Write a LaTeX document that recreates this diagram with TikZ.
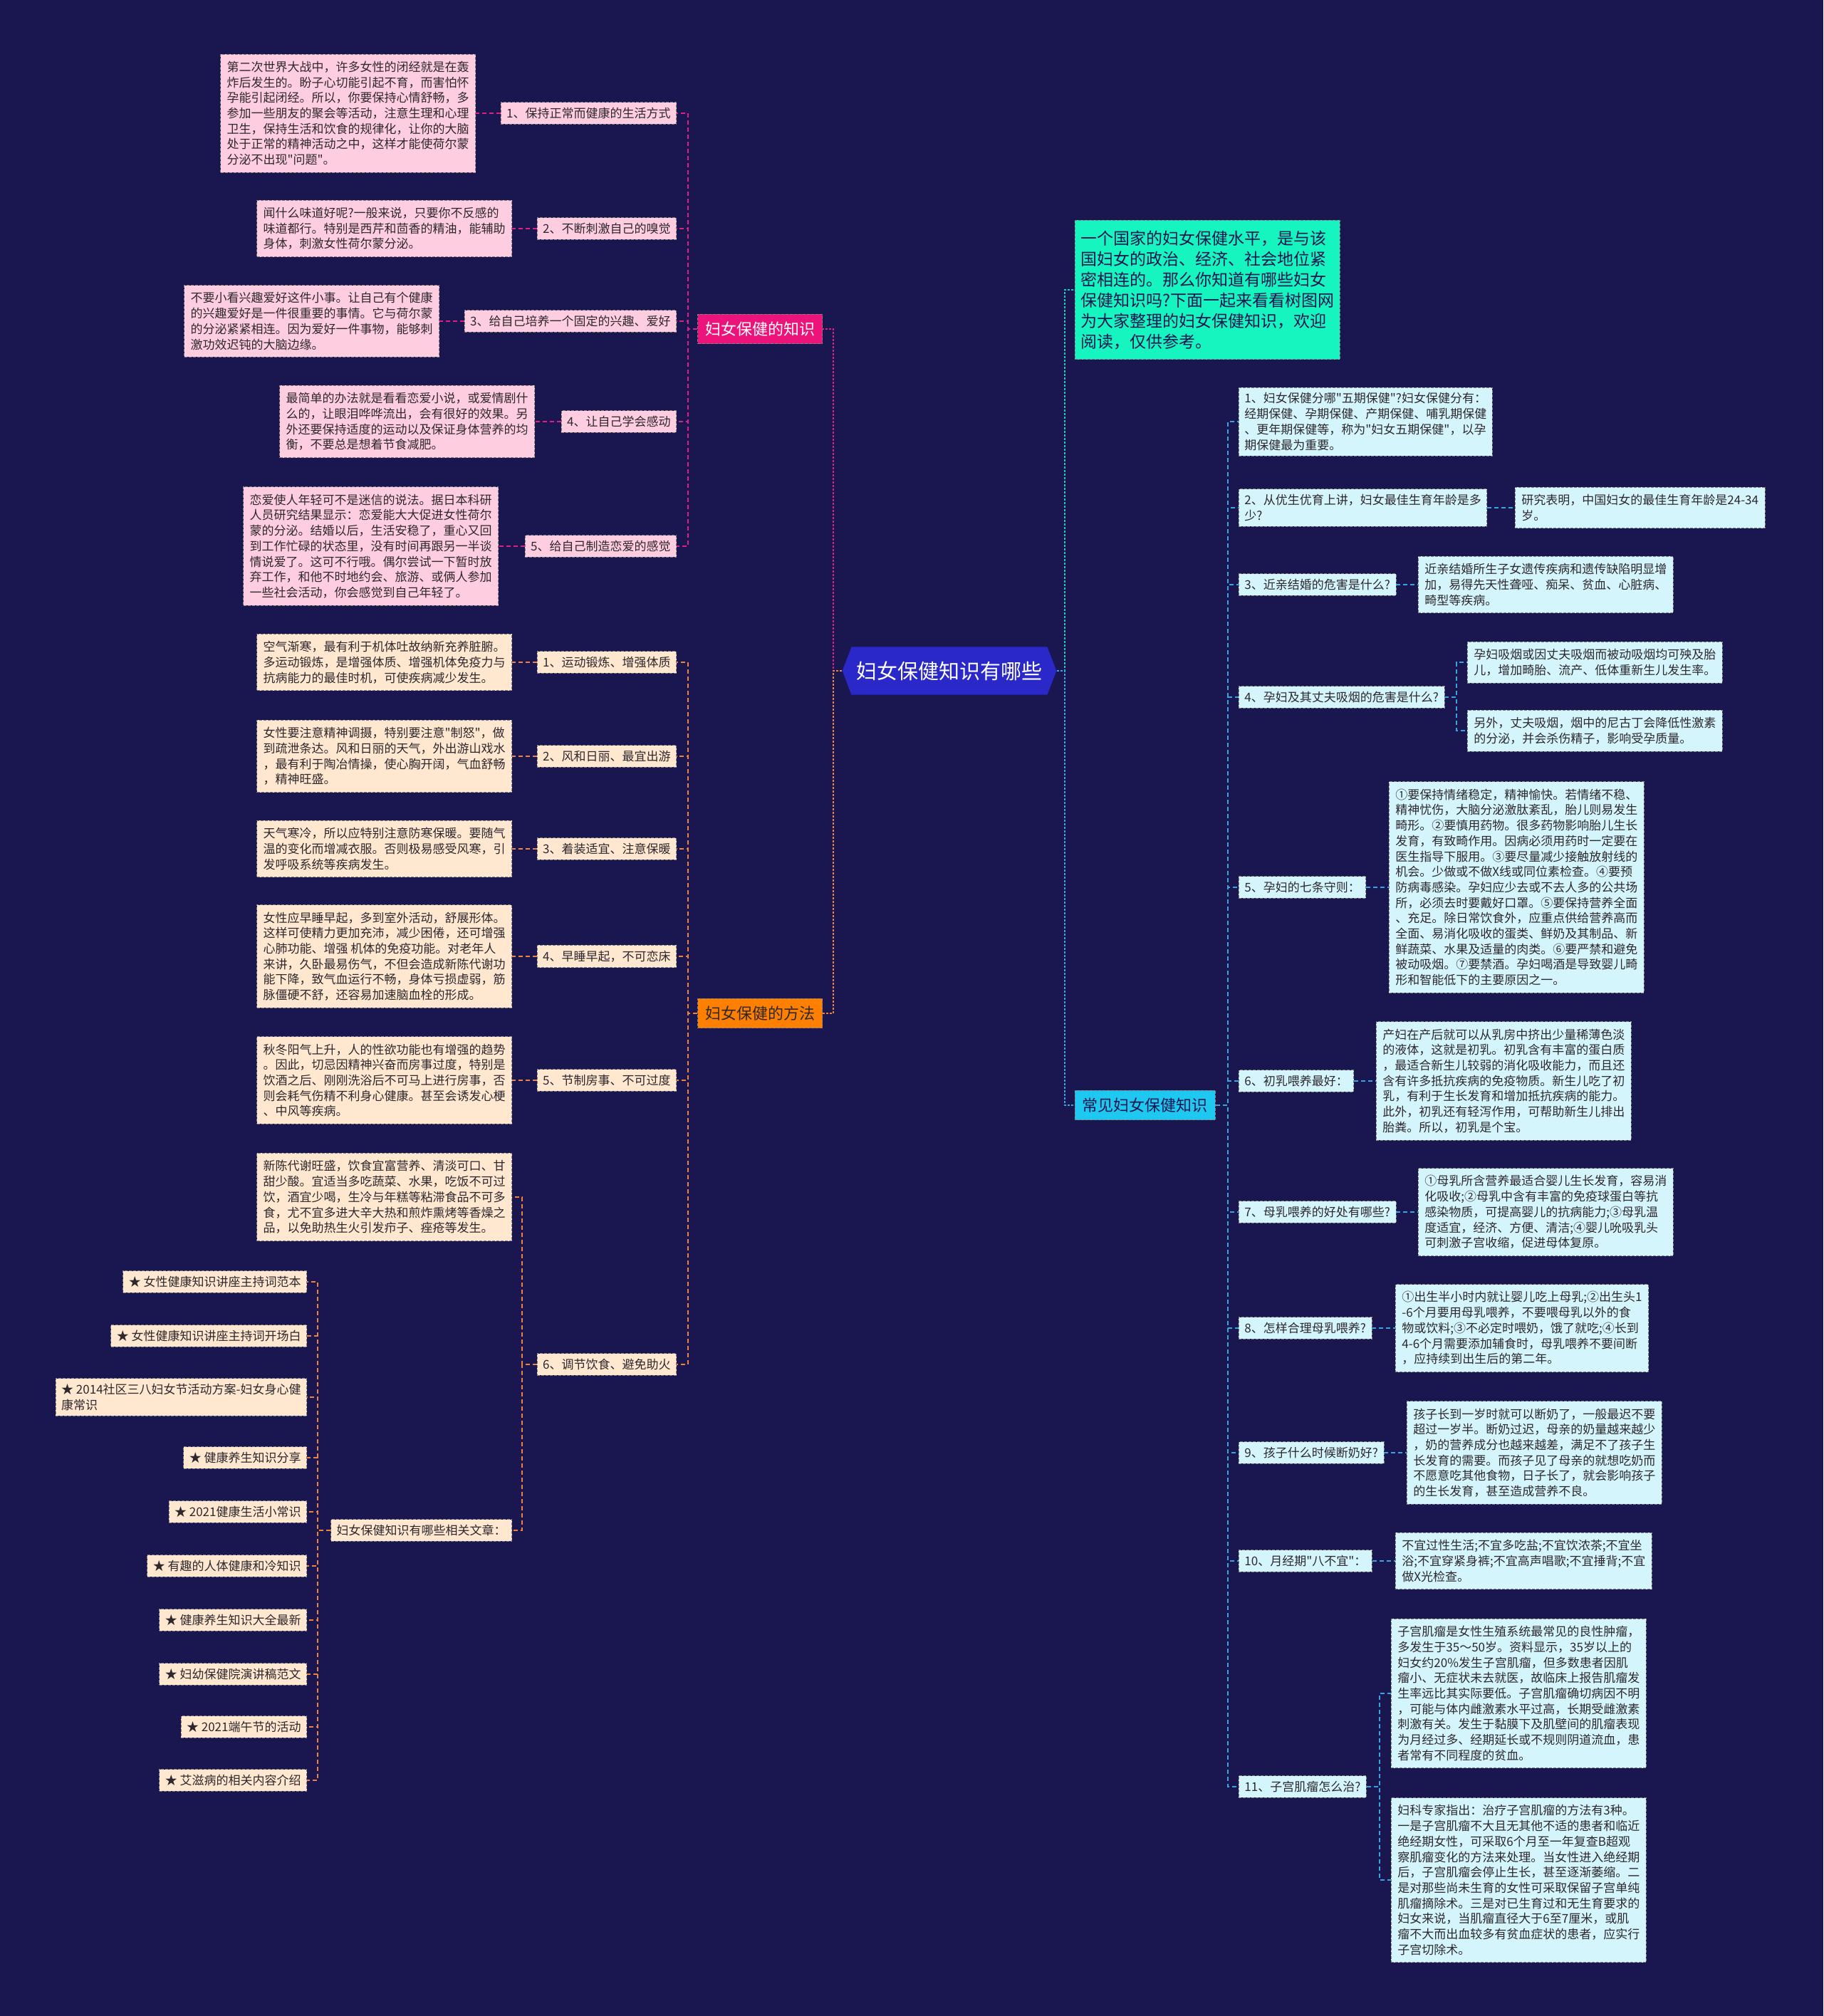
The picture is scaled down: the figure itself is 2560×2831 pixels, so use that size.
\documentclass[tikz,border=0pt]{standalone}
\usepackage{fontspec}
\newfontfamily\cjk{Noto Sans CJK SC}
\usepackage{xcolor}
\usetikzlibrary{shapes.symbols}

\definecolor{bgnavy}{RGB}{25,22,80}
\definecolor{hexblue}{RGB}{42,40,200}
\definecolor{rosered}{RGB}{236,20,122}
\definecolor{rosepale}{RGB}{255,205,224}
\definecolor{orangemain}{RGB}{255,128,0}
\definecolor{orangepale}{RGB}{255,231,208}
\definecolor{mintgreen}{RGB}{22,245,192}
\definecolor{skycyan}{RGB}{30,200,240}
\definecolor{skypale}{RGB}{212,245,252}
\definecolor{linerose}{RGB}{225,30,130}
\definecolor{lineorange}{RGB}{240,130,60}
\definecolor{lineteal}{RGB}{30,205,185}
\definecolor{linesky}{RGB}{55,165,225}
\definecolor{inkdark}{RGB}{45,40,45}

\tikzset{
  boxline/.style={draw=black!50, dash pattern=on 2pt off 1pt, line width=0.4pt},
  smallfont/.style={font=\cjk\fontsize{8.5}{10.85}\selectfont, align=left, text=inkdark},
  textbox/.style={boxline, smallfont, inner xsep=4.5pt, inner ysep=5pt},
  tagbox/.style={boxline, smallfont, inner xsep=4pt, inner ysep=3.75pt},
  secbox/.style={boxline, font=\cjk\fontsize{11}{13}\selectfont, inner xsep=5.25pt, inner ysep=5.25pt},
  conn/.style={line width=0.75pt, dash pattern=on 3pt off 2pt},
  trunk/.style={line width=1.3pt, dash pattern=on 1.5pt off 1pt}
}

\begin{document}
\begin{tikzpicture}[x=0.5pt, y=-0.5pt]
  \fill[bgnavy] (0,0) rectangle (2560,2831);
  \useasboundingbox (0,0) rectangle (2560,2831);

  % 总线位置
  \coordinate (hubL) at (1170,0);
  \coordinate (hubR) at (1495,0);
  \coordinate (kbus) at (966,0);
  \coordinate (mbus) at (966,0);
  \coordinate (m6bus) at (733,0);
  \coordinate (abus) at (446,0);
  \coordinate (cbus) at (1724,0);
  \coordinate (q4bus) at (2045,0);
  \coordinate (q11bus) at (1937,0);

  % 中心主题
  \node[signal, signal to=west and east, signal pointer angle=138, fill=hexblue, text=white,
        font=\cjk\fontsize{14.5}{16}\selectfont, inner xsep=3.5pt, inner ysep=10pt] (hub) at (1333,942) {妇女保健知识有哪些};

  % 一级分支
  \node[secbox, fill=rosered, text=white, anchor=east] (ksec) at (1155,462) {妇女保健的知识};
  \node[secbox, fill=orangemain, text=inkdark, anchor=east] (msec) at (1155,1423) {妇女保健的方法};
  \node[boxline, fill=mintgreen, text=bgnavy, anchor=west, align=left,
        font=\cjk\fontsize{11.5}{14.5}\selectfont, inner xsep=4pt, inner ysep=7pt] (intro) at (1509,407)
        {一个国家的妇女保健水平，是与该\\国妇女的政治、经济、社会地位紧\\密相连的。那么你知道有哪些妇女\\保健知识吗?下面一起来看看树图网\\为大家整理的妇女保健知识，欢迎\\阅读，仅供参考。};
  \node[secbox, fill=skycyan, text=bgnavy, anchor=west] (csec) at (1509,1552) {常见妇女保健知识};

  \draw[trunk, linerose] (hub.west) -- (hub.west -| hubL) |- (ksec.east);
  \draw[trunk, lineorange] (hub.west) -- (hub.west -| hubL) |- (msec.east);
  \draw[trunk, lineteal] (hub.east) -- (hub.east -| hubR) |- (intro.west);
  \draw[trunk, linesky] (hub.east) -- (hub.east -| hubR) |- (csec.west);

  % 妇女保健的知识
  \node[tagbox, fill=rosepale, anchor=east] (k1) at (950,159) {1、保持正常而健康的生活方式};
  \node[tagbox, fill=rosepale, anchor=east] (k2) at (950,321) {2、不断刺激自己的嗅觉};
  \node[tagbox, fill=rosepale, anchor=east] (k3) at (950,451) {3、给自己培养一个固定的兴趣、爱好};
  \node[tagbox, fill=rosepale, anchor=east] (k4) at (950,592) {4、让自己学会感动};
  \node[tagbox, fill=rosepale, anchor=east] (k5) at (950,767) {5、给自己制造恋爱的感觉};

  \node[textbox, fill=rosepale, anchor=east] (k1t) at (668,159)
    {第二次世界大战中，许多女性的闭经就是在轰\\炸后发生的。盼子心切能引起不育，而害怕怀\\孕能引起闭经。所以，你要保持心情舒畅，多\\参加一些朋友的聚会等活动，注意生理和心理\\卫生，保持生活和饮食的规律化，让你的大脑\\处于正常的精神活动之中，这样才能使荷尔蒙\\分泌不出现"问题"。};
  \node[textbox, fill=rosepale, anchor=east] (k2t) at (719,321)
    {闻什么味道好呢?一般来说，只要你不反感的\\味道都行。特别是西芹和茴香的精油，能辅助\\身体，刺激女性荷尔蒙分泌。};
  \node[textbox, fill=rosepale, anchor=east] (k3t) at (617,451)
    {不要小看兴趣爱好这件小事。让自己有个健康\\的兴趣爱好是一件很重要的事情。它与荷尔蒙\\的分泌紧紧相连。因为爱好一件事物，能够刺\\激功效迟钝的大脑边缘。};
  \node[textbox, fill=rosepale, anchor=east] (k4t) at (751,592)
    {最简单的办法就是看看恋爱小说，或爱情剧什\\么的，让眼泪哗哗流出，会有很好的效果。另\\外还要保持适度的运动以及保证身体营养的均\\衡，不要总是想着节食减肥。};
  \node[textbox, fill=rosepale, anchor=east] (k5t) at (700,767)
    {恋爱使人年轻可不是迷信的说法。据日本科研\\人员研究结果显示：恋爱能大大促进女性荷尔\\蒙的分泌。结婚以后，生活安稳了，重心又回\\到工作忙碌的状态里，没有时间再跟另一半谈\\情说爱了。这可不行哦。偶尔尝试一下暂时放\\弃工作，和他不时地约会、旅游、或俩人参加\\一些社会活动，你会感觉到自己年轻了。};

  \draw[conn, linerose] (ksec.west) -- (ksec.west -| kbus) |- (k1.east);
  \draw[conn, linerose] (ksec.west) -- (ksec.west -| kbus) |- (k2.east);
  \draw[conn, linerose] (ksec.west) -- (ksec.west -| kbus) |- (k3.east);
  \draw[conn, linerose] (ksec.west) -- (ksec.west -| kbus) |- (k4.east);
  \draw[conn, linerose] (ksec.west) -- (ksec.west -| kbus) |- (k5.east);
  \draw[conn, linerose] (k1.west) -- (k1t.east);
  \draw[conn, linerose] (k2.west) -- (k2t.east);
  \draw[conn, linerose] (k3.west) -- (k3t.east);
  \draw[conn, linerose] (k4.west) -- (k4t.east);
  \draw[conn, linerose] (k5.west) -- (k5t.east);

  % 妇女保健的方法
  \node[tagbox, fill=orangepale, anchor=east] (m1) at (950,930) {1、运动锻炼、增强体质};
  \node[tagbox, fill=orangepale, anchor=east] (m2) at (950,1062) {2、风和日丽、最宜出游};
  \node[tagbox, fill=orangepale, anchor=east] (m3) at (950,1192) {3、着装适宜、注意保暖};
  \node[tagbox, fill=orangepale, anchor=east] (m4) at (950,1343) {4、早睡早起，不可恋床};
  \node[tagbox, fill=orangepale, anchor=east] (m5) at (950,1517) {5、节制房事、不可过度};
  \node[tagbox, fill=orangepale, anchor=east] (m6) at (950,1916) {6、调节饮食、避免助火};

  \node[textbox, fill=orangepale, anchor=east] (m1t) at (719,930)
    {空气渐寒，最有利于机体吐故纳新充养脏腑。\\多运动锻炼，是增强体质、增强机体免疫力与\\抗病能力的最佳时机，可使疾病减少发生。};
  \node[textbox, fill=orangepale, anchor=east] (m2t) at (719,1062)
    {女性要注意精神调摄，特别要注意"制怒"，做\\到疏泄条达。风和日丽的天气，外出游山戏水\\，最有利于陶冶情操，使心胸开阔，气血舒畅\\，精神旺盛。};
  \node[textbox, fill=orangepale, anchor=east] (m3t) at (719,1192)
    {天气寒冷，所以应特别注意防寒保暖。要随气\\温的变化而增减衣服。否则极易感受风寒，引\\发呼吸系统等疾病发生。};
  \node[textbox, fill=orangepale, anchor=east] (m4t) at (719,1343)
    {女性应早睡早起，多到室外活动，舒展形体。\\这样可使精力更加充沛，减少困倦，还可增强\\心肺功能、增强 机体的免疫功能。对老年人\\来讲，久卧最易伤气，不但会造成新陈代谢功\\能下降，致气血运行不畅，身体亏损虚弱，筋\\脉僵硬不舒，还容易加速脑血栓的形成。};
  \node[textbox, fill=orangepale, anchor=east] (m5t) at (719,1517)
    {秋冬阳气上升，人的性欲功能也有增强的趋势\\。因此，切忌因精神兴奋而房事过度，特别是\\饮酒之后、刚刚洗浴后不可马上进行房事，否\\则会耗气伤精不利身心健康。甚至会诱发心梗\\、中风等疾病。};
  \node[textbox, fill=orangepale, anchor=east] (m6t) at (719,1681)
    {新陈代谢旺盛，饮食宜富营养、清淡可口、甘\\甜少酸。宜适当多吃蔬菜、水果，吃饭不可过\\饮，酒宜少喝，生冷与年糕等粘滞食品不可多\\食，尤不宜多进大辛大热和煎炸熏烤等香燥之\\品，以免助热生火引发疖子、痤疮等发生。};
  \node[tagbox, fill=orangepale, anchor=east] (mrel) at (719,2149) {妇女保健知识有哪些相关文章：};

  \draw[conn, lineorange] (msec.west) -- (msec.west -| mbus) |- (m1.east);
  \draw[conn, lineorange] (msec.west) -- (msec.west -| mbus) |- (m2.east);
  \draw[conn, lineorange] (msec.west) -- (msec.west -| mbus) |- (m3.east);
  \draw[conn, lineorange] (msec.west) -- (msec.west -| mbus) |- (m4.east);
  \draw[conn, lineorange] (msec.west) -- (msec.west -| mbus) |- (m5.east);
  \draw[conn, lineorange] (msec.west) -- (msec.west -| mbus) |- (m6.east);
  \draw[conn, lineorange] (m1.west) -- (m1t.east);
  \draw[conn, lineorange] (m2.west) -- (m2t.east);
  \draw[conn, lineorange] (m3.west) -- (m3t.east);
  \draw[conn, lineorange] (m4.west) -- (m4t.east);
  \draw[conn, lineorange] (m5.west) -- (m5t.east);
  \draw[conn, lineorange] (m6.west) -- (m6.west -| m6bus) |- (m6t.east);
  \draw[conn, lineorange] (m6.west) -- (m6.west -| m6bus) |- (mrel.east);

  % 相关文章
  \node[tagbox, fill=orangepale, anchor=east] (a1) at (431,1800) {★ 女性健康知识讲座主持词范本};
  \node[tagbox, fill=orangepale, anchor=east] (a2) at (431,1876) {★ 女性健康知识讲座主持词开场白};
  \node[tagbox, fill=orangepale, anchor=east] (a3) at (431,1962) {★ 2014社区三八妇女节活动方案-妇女身心健\\康常识};
  \node[tagbox, fill=orangepale, anchor=east] (a4) at (431,2047) {★ 健康养生知识分享};
  \node[tagbox, fill=orangepale, anchor=east] (a5) at (431,2123) {★ 2021健康生活小常识};
  \node[tagbox, fill=orangepale, anchor=east] (a6) at (431,2199) {★ 有趣的人体健康和冷知识};
  \node[tagbox, fill=orangepale, anchor=east] (a7) at (431,2275) {★ 健康养生知识大全最新};
  \node[tagbox, fill=orangepale, anchor=east] (a8) at (431,2351) {★ 妇幼保健院演讲稿范文};
  \node[tagbox, fill=orangepale, anchor=east] (a9) at (431,2425) {★ 2021端午节的活动};
  \node[tagbox, fill=orangepale, anchor=east] (a10) at (431,2500) {★ 艾滋病的相关内容介绍};

  \draw[conn, lineorange] (mrel.west) -- (mrel.west -| abus) |- (a1.east);
  \draw[conn, lineorange] (mrel.west) -- (mrel.west -| abus) |- (a2.east);
  \draw[conn, lineorange] (mrel.west) -- (mrel.west -| abus) |- (a3.east);
  \draw[conn, lineorange] (mrel.west) -- (mrel.west -| abus) |- (a4.east);
  \draw[conn, lineorange] (mrel.west) -- (mrel.west -| abus) |- (a5.east);
  \draw[conn, lineorange] (mrel.west) -- (mrel.west -| abus) |- (a6.east);
  \draw[conn, lineorange] (mrel.west) -- (mrel.west -| abus) |- (a7.east);
  \draw[conn, lineorange] (mrel.west) -- (mrel.west -| abus) |- (a8.east);
  \draw[conn, lineorange] (mrel.west) -- (mrel.west -| abus) |- (a9.east);
  \draw[conn, lineorange] (mrel.west) -- (mrel.west -| abus) |- (a10.east);

  % 常见妇女保健知识
  \node[tagbox, fill=skypale, anchor=west] (q1) at (1739,592) {1、妇女保健分哪"五期保健"?妇女保健分有：\\经期保健、孕期保健、产期保健、哺乳期保健\\、更年期保健等，称为"妇女五期保健"，以孕\\期保健最为重要。};
  \node[tagbox, fill=skypale, anchor=west] (q2) at (1739,713) {2、从优生优育上讲，妇女最佳生育年龄是多\\少?};
  \node[tagbox, fill=skypale, anchor=west] (q3) at (1739,821) {3、近亲结婚的危害是什么?};
  \node[tagbox, fill=skypale, anchor=west] (q4) at (1739,979) {4、孕妇及其丈夫吸烟的危害是什么?};
  \node[tagbox, fill=skypale, anchor=west] (q5) at (1739,1246) {5、孕妇的七条守则：};
  \node[tagbox, fill=skypale, anchor=west] (q6) at (1739,1518) {6、初乳喂养最好：};
  \node[tagbox, fill=skypale, anchor=west] (q7) at (1739,1702) {7、母乳喂养的好处有哪些?};
  \node[tagbox, fill=skypale, anchor=west] (q8) at (1739,1865) {8、怎样合理母乳喂养?};
  \node[tagbox, fill=skypale, anchor=west] (q9) at (1739,2040) {9、孩子什么时候断奶好?};
  \node[tagbox, fill=skypale, anchor=west] (q10) at (1739,2192) {10、月经期"八不宜"：};
  \node[tagbox, fill=skypale, anchor=west] (q11) at (1739,2509) {11、子宫肌瘤怎么治?};

  \node[textbox, fill=skypale, anchor=west] (q2a) at (2127,713)
    {研究表明，中国妇女的最佳生育年龄是24-34\\岁。};
  \node[textbox, fill=skypale, anchor=west] (q3a) at (1991,821)
    {近亲结婚所生子女遗传疾病和遗传缺陷明显增\\加，易得先天性聋哑、痴呆、贫血、心脏病、\\畸型等疾病。};
  \node[textbox, fill=skypale, anchor=west] (q4a) at (2060,930)
    {孕妇吸烟或因丈夫吸烟而被动吸烟均可殃及胎\\儿，增加畸胎、流产、低体重新生儿发生率。};
  \node[textbox, fill=skypale, anchor=west] (q4b) at (2060,1026)
    {另外，丈夫吸烟，烟中的尼古丁会降低性激素\\的分泌，并会杀伤精子，影响受孕质量。};
  \node[textbox, fill=skypale, anchor=west] (q5a) at (1950,1246)
    {①要保持情绪稳定，精神愉快。若情绪不稳、\\精神忧伤，大脑分泌激肽紊乱，胎儿则易发生\\畸形。②要慎用药物。很多药物影响胎儿生长\\发育，有致畸作用。因病必须用药时一定要在\\医生指导下服用。③要尽量减少接触放射线的\\机会。少做或不做X线或同位素检查。④要预\\防病毒感染。孕妇应少去或不去人多的公共场\\所，必须去时要戴好口罩。⑤要保持营养全面\\、充足。除日常饮食外，应重点供给营养高而\\全面、易消化吸收的蛋类、鲜奶及其制品、新\\鲜蔬菜、水果及适量的肉类。⑥要严禁和避免\\被动吸烟。⑦要禁酒。孕妇喝酒是导致婴儿畸\\形和智能低下的主要原因之一。};
  \node[textbox, fill=skypale, anchor=west] (q6a) at (1932,1518)
    {产妇在产后就可以从乳房中挤出少量稀薄色淡\\的液体，这就是初乳。初乳含有丰富的蛋白质\\，最适合新生儿较弱的消化吸收能力，而且还\\含有许多抵抗疾病的免疫物质。新生儿吃了初\\乳，有利于生长发育和增加抵抗疾病的能力。\\此外，初乳还有轻泻作用，可帮助新生儿排出\\胎粪。所以，初乳是个宝。};
  \node[textbox, fill=skypale, anchor=west] (q7a) at (1991,1702)
    {①母乳所含营养最适合婴儿生长发育，容易消\\化吸收;②母乳中含有丰富的免疫球蛋白等抗\\感染物质，可提高婴儿的抗病能力;③母乳温\\度适宜，经济、方便、清洁;④婴儿吮吸乳头\\可刺激子宫收缩，促进母体复原。};
  \node[textbox, fill=skypale, anchor=west] (q8a) at (1959,1865)
    {①出生半小时内就让婴儿吃上母乳;②出生头1\\-6个月要用母乳喂养，不要喂母乳以外的食\\物或饮料;③不必定时喂奶，饿了就吃;④长到\\4-6个月需要添加辅食时，母乳喂养不要间断\\，应持续到出生后的第二年。};
  \node[textbox, fill=skypale, anchor=west] (q9a) at (1975,2040)
    {孩子长到一岁时就可以断奶了，一般最迟不要\\超过一岁半。断奶过迟，母亲的奶量越来越少\\，奶的营养成分也越来越差，满足不了孩子生\\长发育的需要。而孩子见了母亲的就想吃奶而\\不愿意吃其他食物，日子长了，就会影响孩子\\的生长发育，甚至造成营养不良。};
  \node[textbox, fill=skypale, anchor=west] (q10a) at (1959,2192)
    {不宜过性生活;不宜多吃盐;不宜饮浓茶;不宜坐\\浴;不宜穿紧身裤;不宜高声唱歌;不宜捶背;不宜\\做X光检查。};
  \node[textbox, fill=skypale, anchor=west] (q11a) at (1953,2378)
    {子宫肌瘤是女性生殖系统最常见的良性肿瘤，\\多发生于35～50岁。资料显示，35岁以上的\\妇女约20\%发生子宫肌瘤，但多数患者因肌\\瘤小、无症状未去就医，故临床上报告肌瘤发\\生率远比其实际要低。子宫肌瘤确切病因不明\\，可能与体内雌激素水平过高，长期受雌激素\\刺激有关。发生于黏膜下及肌壁间的肌瘤表现\\为月经过多、经期延长或不规则阴道流血，患\\者常有不同程度的贫血。};
  \node[textbox, fill=skypale, anchor=west] (q11b) at (1953,2640)
    {妇科专家指出：治疗子宫肌瘤的方法有3种。\\一是子宫肌瘤不大且无其他不适的患者和临近\\绝经期女性，可采取6个月至一年复查B超观\\察肌瘤变化的方法来处理。当女性进入绝经期\\后，子宫肌瘤会停止生长，甚至逐渐萎缩。二\\是对那些尚未生育的女性可采取保留子宫单纯\\肌瘤摘除术。三是对已生育过和无生育要求的\\妇女来说，当肌瘤直径大于6至7厘米，或肌\\瘤不大而出血较多有贫血症状的患者，应实行\\子宫切除术。};

  \draw[conn, linesky] (csec.east) -- (csec.east -| cbus) |- (q1.west);
  \draw[conn, linesky] (csec.east) -- (csec.east -| cbus) |- (q2.west);
  \draw[conn, linesky] (csec.east) -- (csec.east -| cbus) |- (q3.west);
  \draw[conn, linesky] (csec.east) -- (csec.east -| cbus) |- (q4.west);
  \draw[conn, linesky] (csec.east) -- (csec.east -| cbus) |- (q5.west);
  \draw[conn, linesky] (csec.east) -- (csec.east -| cbus) |- (q6.west);
  \draw[conn, linesky] (csec.east) -- (csec.east -| cbus) |- (q7.west);
  \draw[conn, linesky] (csec.east) -- (csec.east -| cbus) |- (q8.west);
  \draw[conn, linesky] (csec.east) -- (csec.east -| cbus) |- (q9.west);
  \draw[conn, linesky] (csec.east) -- (csec.east -| cbus) |- (q10.west);
  \draw[conn, linesky] (csec.east) -- (csec.east -| cbus) |- (q11.west);
  \draw[conn, linesky] (q2.east) -- (q2a.west);
  \draw[conn, linesky] (q3.east) -- (q3a.west);
  \draw[conn, linesky] (q4.east) -- (q4.east -| q4bus) |- (q4a.west);
  \draw[conn, linesky] (q4.east) -- (q4.east -| q4bus) |- (q4b.west);
  \draw[conn, linesky] (q5.east) -- (q5a.west);
  \draw[conn, linesky] (q6.east) -- (q6a.west);
  \draw[conn, linesky] (q7.east) -- (q7a.west);
  \draw[conn, linesky] (q8.east) -- (q8a.west);
  \draw[conn, linesky] (q9.east) -- (q9a.west);
  \draw[conn, linesky] (q10.east) -- (q10a.west);
  \draw[conn, linesky] (q11.east) -- (q11.east -| q11bus) |- (q11a.west);
  \draw[conn, linesky] (q11.east) -- (q11.east -| q11bus) |- (q11b.west);
\end{tikzpicture}
\end{document}
